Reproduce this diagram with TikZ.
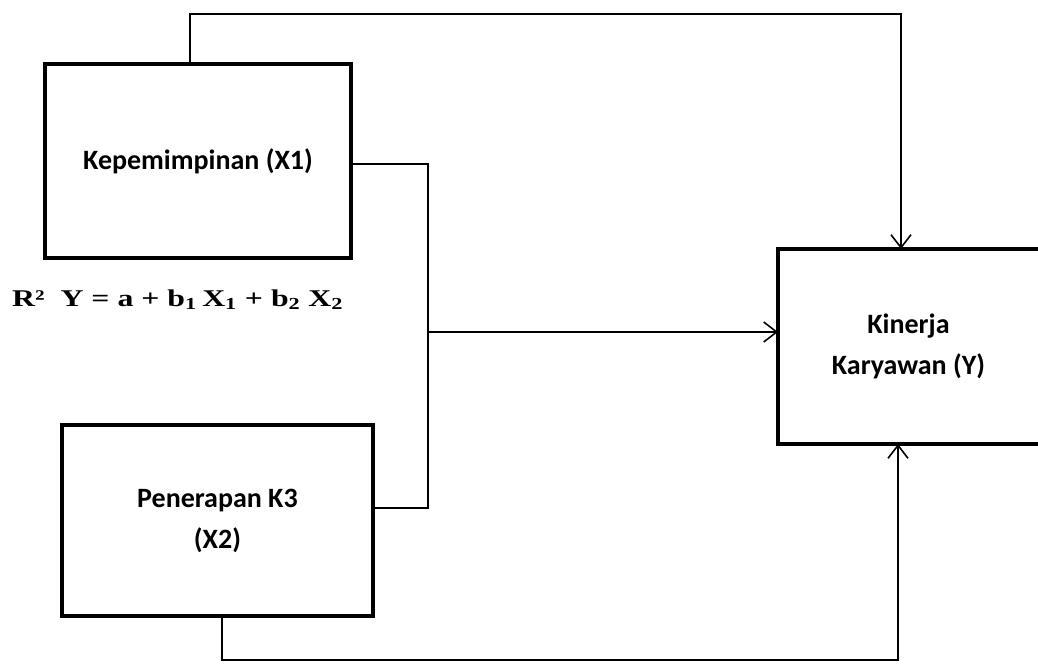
\documentclass[tikz,border=0pt]{standalone}
\usepackage{fontspec}
\usepackage{graphicx}
\setmainfont{Carlito}
\newfontfamily\tnr{Liberation Serif}
\usetikzlibrary{arrows.meta,calc}
\tikzset{
  box/.style={draw=black, line width=4pt, rectangle, align=center,
    font=\bfseries\fontsize{28}{41}\selectfont, inner sep=0pt},
  conn/.style={draw=black, line width=1.6pt},
  arr/.style={-{Straight Barb[length=13pt,width=20pt,line width=1.6pt]}}
}
\begin{document}
\begin{tikzpicture}[x=1pt,y=-1pt]
\useasboundingbox (0,0) rectangle (1038,666);
\node[box, minimum width=306pt, minimum height=194pt] (X1) at (198,161) {Kepemimpinan (X1)};
\node[box, minimum width=311pt, minimum height=191pt] (X2) at (217.5,520.5) {Penerapan K3\\(X2)};
\node[box, draw=none, minimum width=257pt, minimum height=191pt] (Y) at (908.5,346.5) {Kinerja\\Karyawan (Y)};
\draw[line width=4pt, line cap=rect] (Y.north east) -- (Y.north west) -- (Y.south west) -- (Y.south east);
\draw[line width=0.6pt, black!35] (Y.north east) -- (Y.south east);
\node[anchor=base west, inner sep=0pt, font=\tnr\bfseries\fontsize{24}{28}\selectfont] (F) at (12,306)
  {\resizebox{331pt}{\height}{R²\ \ Y = a + b\textsubscript{1}\,X\textsubscript{1} + b\textsubscript{2}\ X\textsubscript{2}}};
\coordinate (t1) at (190,14);
\coordinate (t2) at (901,14);
\coordinate (j) at (428,332);
\coordinate (b1) at (222,660);
\coordinate (b2) at (898,660);
\draw[conn, arr] (X1.north -| t1) -- (t1) -- (t2) -- (t2 |- Y.north);
\draw[conn] ([yshift=-3pt]X1.east) -| (j);
\draw[conn] ([yshift=12.5pt]X2.east) -| (j);
\draw[conn, arr] (j) -- (j -| Y.west);
\draw[conn, arr] (X2.south -| b1) -- (b1) -- (b2) -- (b2 |- Y.south);
\end{tikzpicture}
\end{document}
